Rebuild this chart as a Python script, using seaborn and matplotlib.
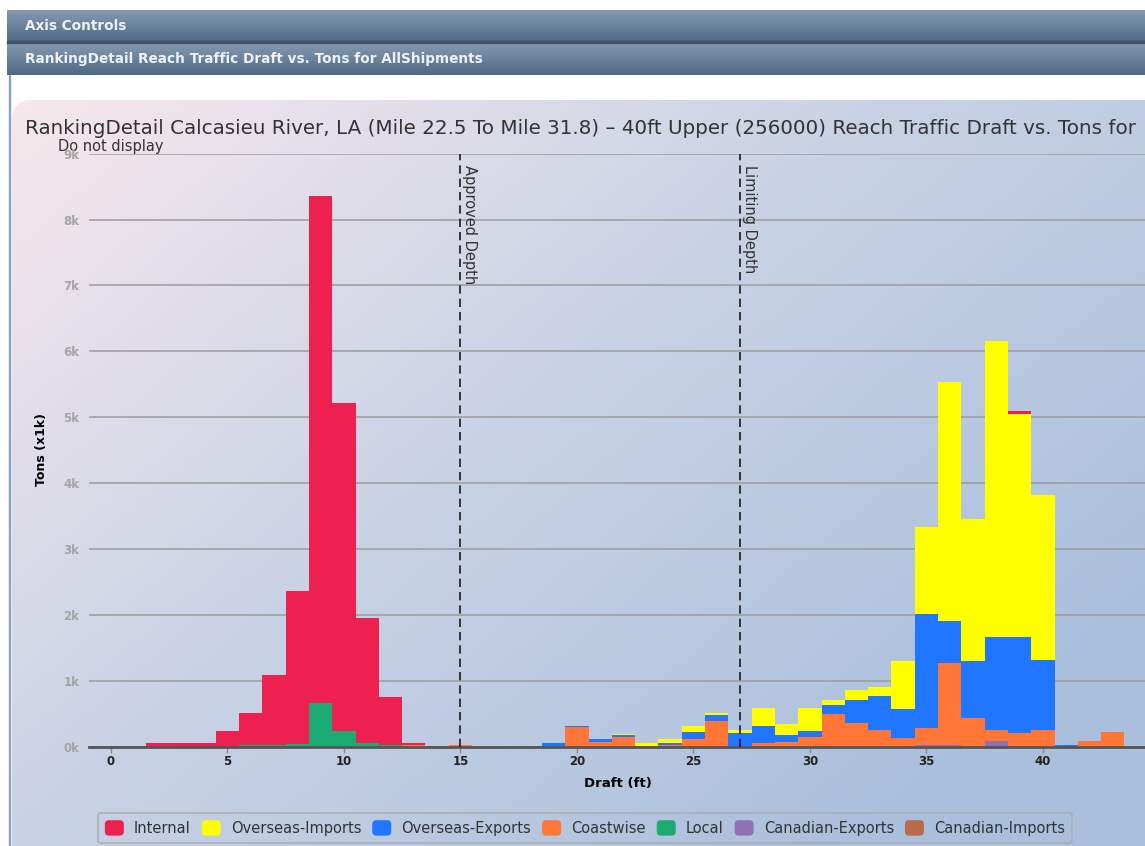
import numpy as np
import pandas as pd
import matplotlib
matplotlib.use("Agg")
import matplotlib.pyplot as plt
import seaborn as sns
from matplotlib.patches import Patch, FancyBboxPatch, Rectangle
from matplotlib.colors import LinearSegmentedColormap
from matplotlib.legend_handler import HandlerPatch

# values, tons in thousands, one bin per foot of draft
series = ["Internal", "Overseas-Imports", "Overseas-Exports", "Coastwise",
          "Local", "Canadian-Exports", "Canadian-Imports"]
colors = ["#ee2050", "#ffff00", "#2176ff", "#ff7636",
          "#1dab74", "#9270b4", "#b86a4b"]

internal_draft = [2, 3, 4, 5, 6, 7, 8, 9, 10, 11, 12, 13, 39]
internal_tons = [0.05, 0.05, 0.05, 0.24, 0.49, 1.07, 2.33, 7.70, 4.98, 1.90, 0.73, 0.04, 0.04]

imports_draft = [22, 23, 24, 25, 26, 27, 28, 29, 30, 31, 32, 33, 34, 35, 36, 37, 38, 39, 40]
imports_tons = [0.02, 0.04, 0.05, 0.10, 0.03, 0.05, 0.26, 0.17, 0.35, 0.08,
                0.15, 0.13, 0.73, 1.32, 3.63, 2.16, 4.49, 3.39, 2.51]

exports_draft = [19, 20, 21, 22, 24, 25, 26, 27, 28, 29, 30, 31, 32, 33, 34, 35, 36, 37, 38, 39, 40, 41]
exports_tons = [0.05, 0.02, 0.04, 0.02, 0.04, 0.10, 0.09, 0.21, 0.27, 0.10, 0.09,
                0.13, 0.35, 0.51, 0.44, 1.73, 0.64, 0.86, 1.41, 1.45, 1.06, 0.03]

coast_draft = [13, 15, 20, 21, 22, 23, 24, 25, 26, 28, 29, 30, 31, 32, 33, 34,
               35, 36, 37, 38, 39, 40, 42, 43]
coast_tons = [0.02, 0.02, 0.30, 0.07, 0.15, 0.01, 0.02, 0.12, 0.39, 0.05, 0.07, 0.15,
              0.50, 0.36, 0.26, 0.13, 0.26, 1.25, 0.44, 0.16, 0.21, 0.25, 0.09, 0.22]

local_draft = [6, 7, 8, 9, 10, 11, 12]
local_tons = [0.02, 0.02, 0.04, 0.66, 0.24, 0.06, 0.02]

canexp_draft = [35, 36, 38]
canexp_tons = [0.02, 0.02, 0.09]

canimp_draft = [38]
canimp_tons = [0.0]

approved_depth = 15
limiting_depth = 27

# the page only shows the title up to "Tons for"
title = ("RankingDetail Calcasieu River, LA (Mile 22.5 To Mile 31.8) \u2013 40ft Upper "
         "(256000) Reach Traffic Draft vs. Tons for")

parts = []
for name, d, t in [("Internal", internal_draft, internal_tons),
                   ("Overseas-Imports", imports_draft, imports_tons),
                   ("Overseas-Exports", exports_draft, exports_tons),
                   ("Coastwise", coast_draft, coast_tons),
                   ("Local", local_draft, local_tons),
                   ("Canadian-Exports", canexp_draft, canexp_tons),
                   ("Canadian-Imports", canimp_draft, canimp_tons)]:
    parts.append(pd.DataFrame({"draft": d, "tons": t, "type": name}))
df = pd.concat(parts, ignore_index=True)

W, H = 1145, 846
fig = plt.figure(figsize=(W / 100, H / 100), dpi=100)

# page background drawn in pixel coordinates
bg = fig.add_axes([0, 0, 1, 1], zorder=0)
bg.set_xlim(0, W)
bg.set_ylim(H, 0)
bg.axis("off")

hdr = LinearSegmentedColormap.from_list("hdr", ["#8399af", "#6a839c", "#4e6883"])
grad = np.linspace(0, 1, 64).reshape(-1, 1)
bg.imshow(grad, cmap=hdr, aspect="auto", extent=(7, W, 42, 10), zorder=1)
bg.imshow(grad, cmap=hdr, aspect="auto", extent=(7, W, 75, 43), zorder=1)
bg.add_patch(Rectangle((7, 41.5), W, 1.5, color="#3d546b", zorder=2))
bg.add_patch(Rectangle((8.5, 75), 1.2, H, color="#8aa2bb", zorder=2))
bg.text(25, 26, "Axis Controls", color="#eef2f6", fontsize=9.8, fontweight="bold",
        va="center", zorder=3)
bg.text(25, 58.5, "RankingDetail Reach Traffic Draft vs. Tons for AllShipments",
        color="#eef2f6", fontsize=9.8, fontweight="bold", va="center", zorder=3)

# chart panel with diagonal gradient and rounded corner
px0, py0 = 12, 100
ny, nx = 200, 300
xn = np.linspace(0, 1, nx)[None, :]
yn = np.linspace(0, 1, ny)[:, None]
tt = np.clip(0.65 * xn + 0.5 * yn, 0, 1)
panel_cmap = LinearSegmentedColormap.from_list(
    "panel", [(0, "#f6e8ec"), (0.5, "#c9d2e5"), (1, "#a9bfdc")])
img = bg.imshow(tt, cmap=panel_cmap, vmin=0, vmax=1, aspect="auto",
                extent=(px0, W + 5, H, py0), zorder=1)
box = FancyBboxPatch((px0, py0), W + 40, H, boxstyle="round,pad=0,rounding_size=20",
                     fc="none", ec="none", transform=bg.transData)
bg.add_patch(box)
img.set_clip_path(box)

bg.text(25, 134, title, fontsize=14.3, color="#333333", va="baseline", zorder=3)
bg.text(58, 151, "Do not display", fontsize=10.5, color="#333333", va="baseline", zorder=3)
bg.text(41.5, 449, "Tons (x1k)", fontsize=9, fontweight="bold", rotation=90,
        ha="center", va="center", zorder=3)
bg.text(618, 783, "Draft (ft)", fontsize=9.5, fontweight="bold", ha="center",
        va="center", zorder=3)

# plot area
x_left, x_right, y_top, y_bot = 89, W, 153.7, 746.7
ax = fig.add_axes([x_left / W, 1 - y_bot / H, (x_right - x_left) / W, (y_bot - y_top) / H],
                  zorder=1)
ax.patch.set_alpha(0)

sns.histplot(data=df, x="draft", weights="tons", hue="type", hue_order=series,
             palette=dict(zip(series, colors)), multiple="stack", discrete=True,
             alpha=1, linewidth=0, legend=False, ax=ax)

ax.set_xlim(-0.94, 44.38)
ax.set_ylim(0, 9)
ax.set_xlabel("")
ax.set_ylabel("")
ax.set_yticks(range(10))
ax.set_yticklabels([f"{i}k" for i in range(10)], fontweight="bold")
ax.set_xticks(range(0, 45, 5))
ax.set_xticklabels([str(v) for v in range(0, 45, 5)], fontweight="bold")
ax.tick_params(axis="y", length=0, pad=7, labelcolor="#a4a4a4", labelsize=8.5)
ax.tick_params(axis="x", length=4.5, width=1, color="#8a8a8a", pad=1.5,
               labelcolor="#222222", labelsize=8.5)
ax.yaxis.grid(True, color="#9c9c9c", lw=1.1)
ax.xaxis.grid(False)
ax.set_axisbelow(True)
for s in ["top", "right", "left"]:
    ax.spines[s].set_visible(False)
ax.spines["bottom"].set_color("#555555")
ax.spines["bottom"].set_linewidth(2)

for xv, lab in [(approved_depth, "Approved Depth"), (limiting_depth, "Limiting Depth")]:
    ax.axvline(xv, color="#1a1a1a", lw=1.2, ls=(0, (5, 3)), zorder=3)
    ax.text(xv + 0.08, 8.83, lab, rotation=-90, ha="left", va="top",
            fontsize=10.5, color="#333333")


class RoundHandler(HandlerPatch):
    def create_artists(self, legend, orig_handle, xdescent, ydescent, width,
                       height, fontsize, trans):
        p = FancyBboxPatch((-xdescent, -ydescent), width, height,
                           boxstyle="round,pad=0,rounding_size=3",
                           fc=orig_handle.get_facecolor(), ec="none", transform=trans)
        return [p]


handles = [Patch(fc=c, label=n) for n, c in zip(series, colors)]
leg = fig.legend(handles=handles, ncol=7, loc="center",
                 bbox_to_anchor=(585 / W, 1 - 828 / H), fontsize=10.5,
                 handlelength=1.3, handleheight=1.25, handletextpad=0.7,
                 columnspacing=0.75, borderpad=0.5, frameon=True, fancybox=True,
                 handler_map={Patch: RoundHandler()})
leg.get_frame().set_facecolor("none")
leg.get_frame().set_edgecolor("#a9a9a9")
leg.get_frame().set_linewidth(1.2)
for t in leg.get_texts():
    t.set_color("#333333")

fig.savefig("out.png", dpi=100)
